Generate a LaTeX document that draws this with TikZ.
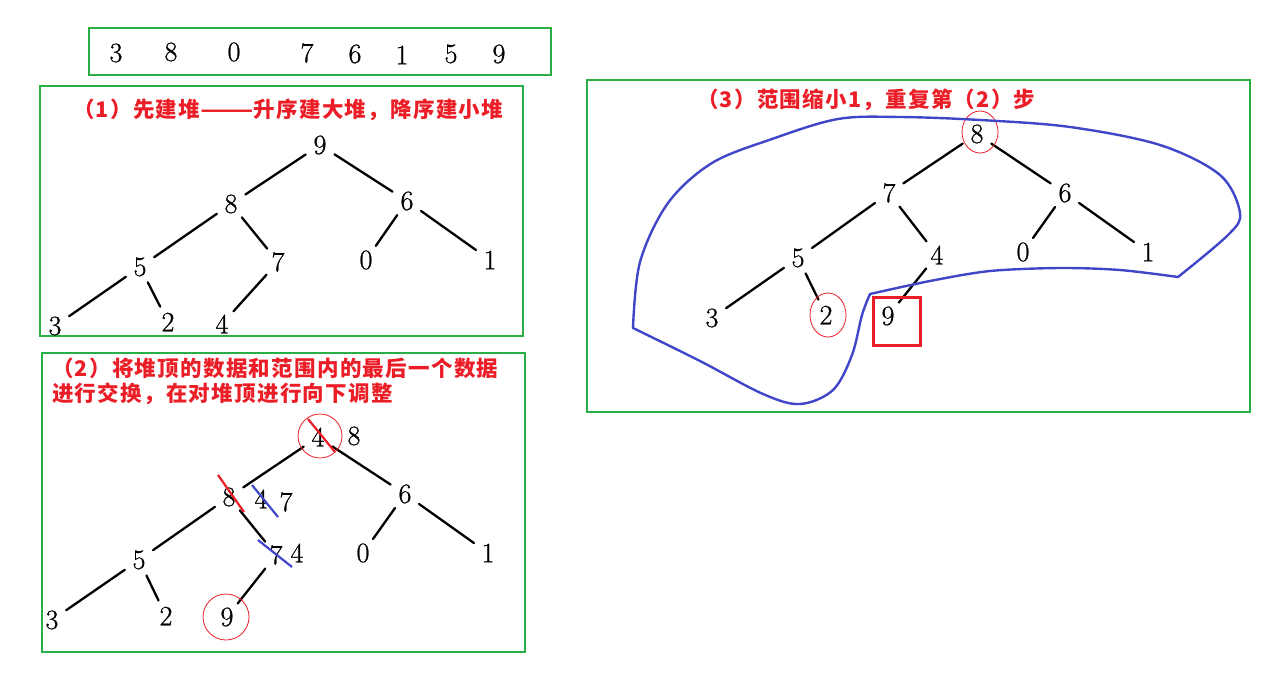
\documentclass[tikz,border=0pt]{standalone}
\usepackage{fontspec}
\newfontfamily\cjk{Noto Sans CJK SC}[LetterSpace=6]
\newfontfamily\numfont{Latin Modern Roman}[FakeBold=0.8]
\definecolor{boxg}{RGB}{40,175,70}
\definecolor{tred}{RGB}{235,30,40}
\definecolor{lblue}{RGB}{65,70,200}
\newcommand{\widedash}{\scalebox{1.45}[1]{——}}
\begin{document}
\begin{tikzpicture}[x=1pt,y=-1pt,
  num/.style={font=\numfont\fontsize{28}{28}\selectfont, inner sep=0pt, circle, minimum size=34pt},
  frame/.style={draw=boxg, line width=1.2pt},
  edge/.style={line width=2.3pt, line cap=round},
  ttl/.style={font=\cjk\bfseries\fontsize{21.5}{25}\selectfont, text=tred, anchor=west, inner sep=0pt, align=left},
  redmark/.style={draw=tred, line width=2.2pt},
  bluemark/.style={draw=lblue, line width=2.2pt},
  ring/.style={draw=tred, line width=0.8pt},
  hull/.style={draw=lblue, line width=2.4pt, line join=round, line cap=round}]
\useasboundingbox (0,0) rectangle (1276,672);

% frames
\draw[frame] (89,28) rectangle (551,75);
\draw[frame] (40,86) rectangle (523,336);
\draw[frame] (42,353) rectangle (525,652);
\draw[frame] (587,80) rectangle (1250,412);

% array
\node[num] (a1) at (116,53) {3};
\node[num] (a2) at (171,52) {8};
\node[num] (a3) at (234,52) {0};
\node[num] (a4) at (307,53) {7};
\node[num] (a5) at (355,54) {6};
\node[num] (a6) at (402,55) {1};
\node[num] (a7) at (451,54) {5};
\node[num] (a8) at (499,54) {9};

% titles
\node[ttl] (t1) at (73,110) {（1）先建堆\widedash 升序建大堆，降序建小堆};
\node[ttl] (t2) at (52,381) {（2）将堆顶的数据和范围内的最后一个数据\\进行交换，在对堆顶进行向下调整};
\node[ttl] (t3) at (697,100) {（3）范围缩小1，重复第（2）步};

% tree 1
\node[num] (p9) at (320,145) {9};
\node[num] (p8) at (231,204) {8};
\node[num] (p6) at (407,201) {6};
\node[num] (p5) at (140,267) {5};
\node[num] (p7) at (278,262) {7};
\node[num] (p0) at (366,260) {0};
\node[num] (p1) at (490,260) {1};
\node[num] (p3) at (55,326) {3};
\node[num] (p2) at (168,322) {2};
\node[num] (p4) at (222,324) {4};
\draw[edge] (p9) -- (p8);
\draw[edge] (p9) -- (p6);
\draw[edge] (p8) -- (p5);
\draw[edge] (p8) -- (p7);
\draw[edge] (p6) -- (p0);
\draw[edge] (p6) -- (p1);
\draw[edge] (p5) -- (p3);
\draw[edge] (p5) -- (p2);
\draw[edge] (p7) -- (p4);

% tree 2
\node[num] (q4) at (318,437) {4};
\node[num] (q8x) at (354,436) {8};
\node[num] (q8) at (229,497) {8};
\node[num] (q4b) at (261,499) {4};
\node[num] (q7x) at (286,502) {7};
\node[num] (q6) at (405,494) {6};
\node[num] (q5) at (139,560) {5};
\node[num] (q7) at (276,555) {7};
\node[num] (q4c) at (297,553) {4};
\node[num] (q0) at (363,553) {0};
\node[num] (q1) at (488,553) {1};
\node[num] (q3) at (52,620) {3};
\node[num] (q2) at (166,616) {2};
\node[num] (q9) at (227,617) {9};
\draw[edge] (q4) -- (q8);
\draw[edge] (q4) -- (q6);
\draw[edge] (q8) -- (q5);
\draw[edge] (q8) -- (q7);
\draw[edge] (q6) -- (q0);
\draw[edge] (q6) -- (q1);
\draw[edge] (q5) -- (q3);
\draw[edge] (q5) -- (q2);
\draw[edge] (q7) -- (q9);
\draw[ring] (320,436) circle (22);
\draw[ring] (226,617) circle (23);
\draw[redmark] (308,419) -- (335,452);
\draw[redmark] (218,475) -- (244,512);
\draw[bluemark] (252,485) -- (278,517);
\draw[bluemark] (258,540) -- (292,567);

% tree 3
\node[num] (r8) at (977,134) {8};
\node[num] (r7) at (889,193) {7};
\node[num] (r6) at (1065,193) {6};
\node[num] (r5) at (798,258) {5};
\node[num] (r4) at (937,255) {4};
\node[num] (r0) at (1023,252) {0};
\node[num] (r1) at (1148,252) {1};
\node[num] (r3) at (712,318) {3};
\node[num] (r2) at (826,315) {2};
\node[num] (r9) at (888,316) {9};
\draw[edge] (r8) -- (r7);
\draw[edge] (r8) -- (r6);
\draw[edge] (r7) -- (r5);
\draw[edge] (r7) -- (r4);
\draw[edge] (r6) -- (r0);
\draw[edge] (r6) -- (r1);
\draw[edge] (r5) -- (r3);
\draw[edge] (r5) -- (r2);
\draw[edge] (r4) -- (r9);
\draw[ring] (980,132) ellipse (18 and 21);
\draw[ring] (828,315) ellipse (18 and 22);
\draw[draw=tred, line width=3pt] (873,297) rectangle (920,345);

% blue hull
\draw[hull] plot[smooth, tension=0.55] coordinates {(633,328) (640,262) (668,203) (712,163) (772,139) (838,119) (900,117) (980,120) (1070,127) (1160,145) (1220,175) (1240,213) (1228,235) (1178,277)};
\draw[hull] plot[smooth, tension=0.5] coordinates {(1178,277) (1120,270) (1060,268) (990,271) (930,281) (870,294)};
\draw[hull] plot[smooth, tension=0.55] coordinates {(870,294) (862,315) (852,355) (833,390) (800,404) (763,394) (700,361) (633,328)};
\end{tikzpicture}
\end{document}
